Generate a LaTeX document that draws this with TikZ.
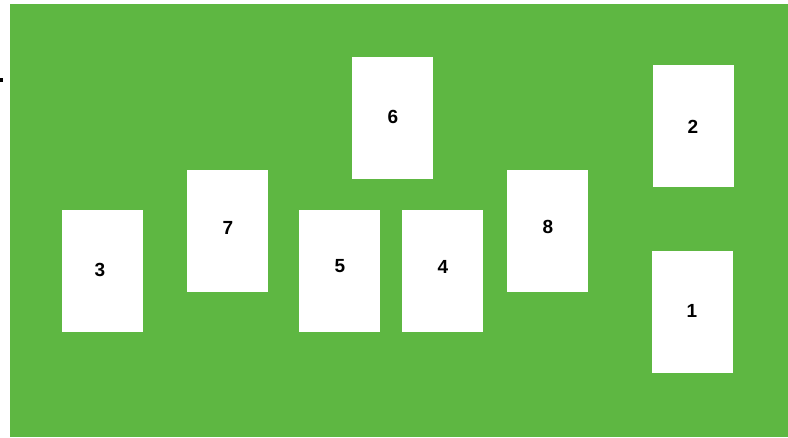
\documentclass[tikz,border=0pt]{standalone}
\usepackage{fontspec}
\setmainfont{Liberation Sans}
\definecolor{felt}{HTML}{5EB742}
\begin{document}
\begin{tikzpicture}[x=1pt,y=-1pt,
  card/.style={fill=white, draw=none, minimum width=81pt, minimum height=122pt, inner sep=0pt},
  num/.style={inner sep=0pt, font=\fontsize{19}{22}\selectfont\bfseries, text=black}]
\useasboundingbox (0,0) rectangle (788,437);
\fill[white] (0,0) rectangle (788,437);
\fill[felt] (10,4) rectangle (788,437);
\fill[black] (0,78) rectangle (2.5,81.5);
\node[card] (c3) at (102.5,270.5) {};
\node[card] (c7) at (227.5,231) {};
\node[card] (c5) at (339,270.5) {};
\node[card] (c4) at (442.5,270.5) {};
\node[card] (c6) at (392.5,117.5) {};
\node[card] (c8) at (547.5,230.5) {};
\node[card] (c2) at (693,125.5) {};
\node[card] (c1) at (692.5,312) {};
\node[num] (t3) at (100,270) {3};
\node[num] (t7) at (228,227.5) {7};
\node[num] (t5) at (340,266.5) {5};
\node[num] (t4) at (443,266.5) {4};
\node[num] (t6) at (393,116.5) {6};
\node[num] (t8) at (548,227) {8};
\node[num] (t2) at (693,127) {2};
\node[num] (t1) at (692,311) {1};
\end{tikzpicture}
\end{document}
